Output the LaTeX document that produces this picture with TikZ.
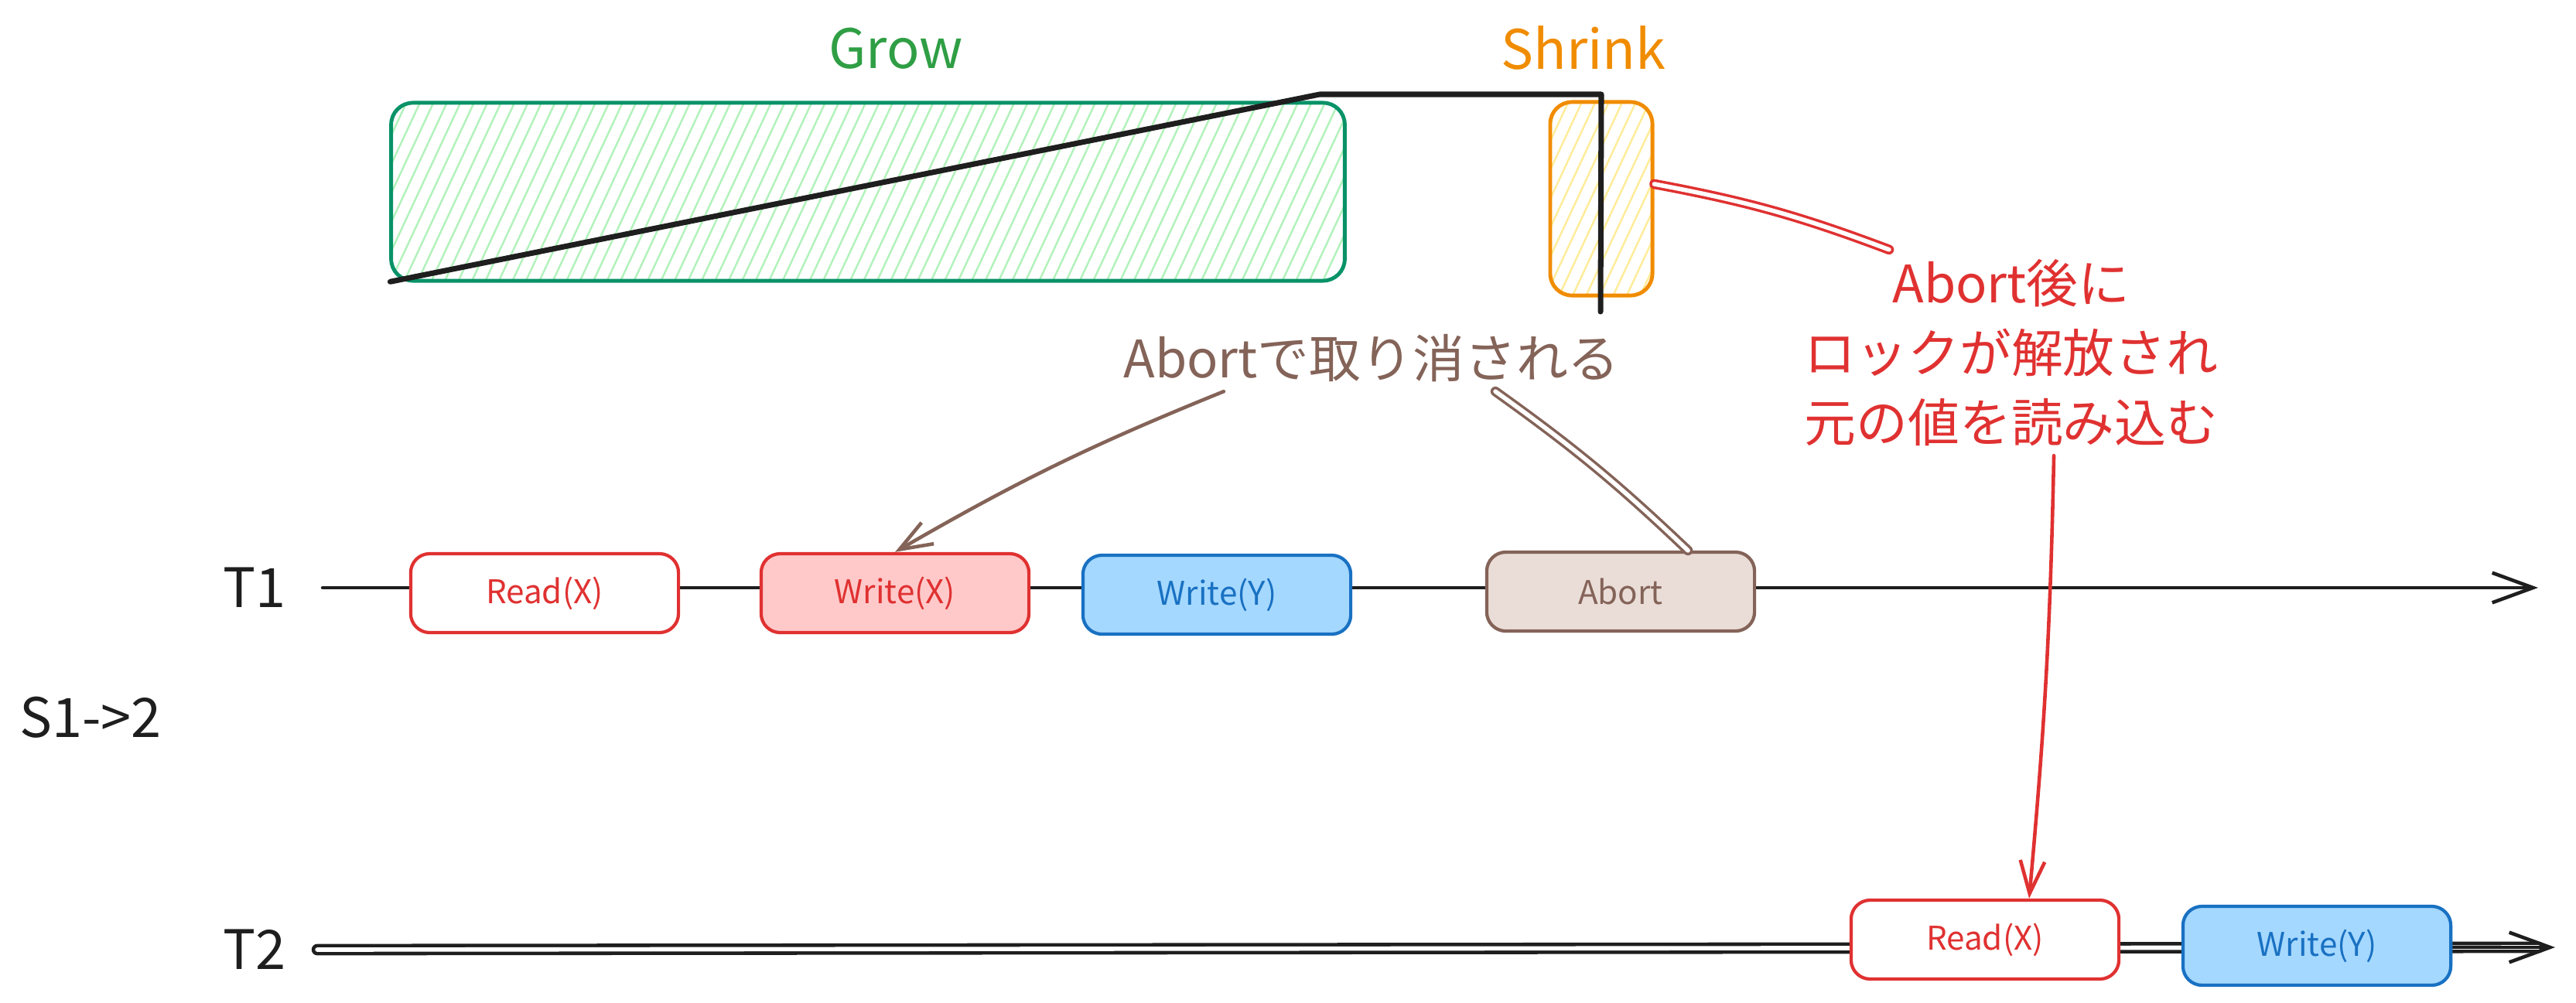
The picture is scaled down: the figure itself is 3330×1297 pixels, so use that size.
\documentclass[tikz,border=0pt]{standalone}
\usepackage{fontspec}
\setmainfont{Noto Sans CJK JP}
\usetikzlibrary{arrows.meta,patterns.meta}

\definecolor{ink}{HTML}{1E1E1E}
\definecolor{xred}{HTML}{E03131}
\definecolor{xpink}{HTML}{FFC9C9}
\definecolor{xblue}{HTML}{1971C2}
\definecolor{xsky}{HTML}{A5D8FF}
\definecolor{xbrown}{HTML}{846358}
\definecolor{xsand}{HTML}{EADDD7}
\definecolor{xgreen}{HTML}{2F9E44}
\definecolor{xteal}{HTML}{099268}
\definecolor{xmint}{HTML}{B2F2BB}
\definecolor{xorange}{HTML}{F08C00}
\definecolor{xyellow}{HTML}{FFEC99}

\tikzset{
	op/.style={draw, line width=1.2pt, rounded corners=7pt, minimum width=3.46cm,
		minimum height=1.02cm, font=\fontsize{12}{14}\selectfont},
	phase/.style={draw, line width=1.4pt, rounded corners=8pt,
		pattern={Lines[angle=65, distance=4.5pt, line width=0.7pt]}},
	lane/.style={text=ink, font=\fontsize{20}{24}\selectfont},
	note/.style={font=\fontsize{19}{25.6}\selectfont},
	timeline/.style={draw=ink, line width=1.3pt, -{Straight Barb[length=15pt, width=11pt]}},
	sketch/.style={line width=1pt, double, double distance=1.6pt},
	tip/.style={-{Straight Barb[length=12pt, width=9pt]}},
}

\begin{document}
\begin{tikzpicture}[x=0.01cm, y=-0.01cm, line cap=round, line join=round]
	\useasboundingbox (0,0) rectangle (3330,1297);

	% phases
	\node[phase, draw=xteal, pattern color=xmint, minimum width=12.32cm, minimum height=2.3cm] (grow) at (1122,248) {};
	\node[phase, draw=xorange, pattern color=xyellow, minimum width=1.32cm, minimum height=2.5cm] (shrink) at (2070,257) {};
	\node[lane, text=xgreen] (growlbl) at (1158,63) {Grow};
	\node[lane, text=xorange] (shrinklbl) at (2047,62) {Shrink};

	\coordinate (peak) at (1706,122);
	\coordinate (shrinkend) at (2069,403);
	\draw[ink, line width=2pt] (grow.south west) -- (peak) -- (peak -| shrink) -- (shrinkend);

	% T1
	\node[lane] (t1) at (329,760) {T1};
	\coordinate (t1end) at (3281,760);
	\draw[timeline] ([xshift=10pt]t1.east) -- (t1end);
	\node[op, draw=xred, text=xred, fill=white] (rx1) at (704,767) {Read(X)};
	\node[op, draw=xred, text=xred, fill=xpink] (wx1) at (1157,767) {Write(X)};
	\node[op, draw=xblue, text=xblue, fill=xsky] (wy1) at (1573,769) {Write(Y)};
	\node[op, draw=xbrown, text=xbrown, fill=xsand] (ab1) at (2095,765) {Abort};

	\node[lane] (sched) at (117,928) {S1->2};

	% T2
	\node[lane] (t2) at (329,1228) {T2};
	\coordinate (t2end) at (3303,1225);
	\draw[ink, line width=1.3pt, double, double distance=1.6pt] ([xshift=8pt]t2.east) -- ([xshift=-6pt]t2end);
	\draw[timeline] ([xshift=-40pt]t2end) -- (t2end);
	\node[op, draw=xred, text=xred, fill=white] (rx2) at (2566,1215) {Read(X)};
	\node[op, draw=xblue, text=xblue, fill=xsky] (wy2) at (2995,1223) {Write(Y)};

	% notes
	\node[note, text=xbrown] (cancel) at (1773,463) {Abortで取り消される};
	\draw[xbrown, line width=1.3pt, tip] ([xshift=-1.91cm]cancel.south) to[bend right=4] (wx1.north);
	\draw[xbrown, sketch] ([xshift=1.6cm]cancel.south) to[bend left=4] ([xshift=0.87cm]ab1.north);

	\node[note, text=xred, align=center] (reload) at (2600,456) {Abort後に\\ロックが解放され\\元の値を読み込む};
	\draw[xred, sketch] ([yshift=0.19cm]shrink.east) to[bend left=5] ([xshift=-1.58cm]reload.north);
	\draw[xred, line width=1.3pt, tip] ([xshift=0.55cm]reload.south) to[bend left=2] ([xshift=0.57cm]rx2.north);
\end{tikzpicture}
\end{document}
